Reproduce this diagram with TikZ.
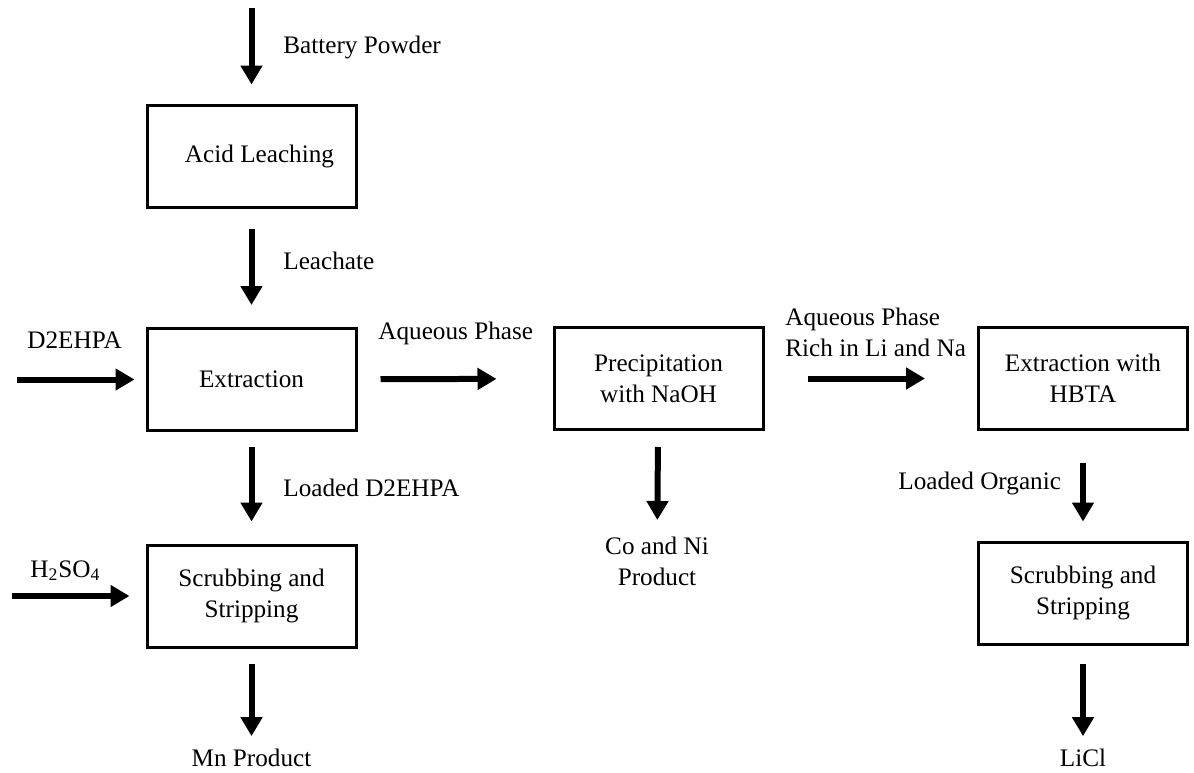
\documentclass[tikz,border=0pt]{standalone}
\usepackage{fontspec}
\setmainfont{Liberation Serif}
\usetikzlibrary{arrows.meta}

\begin{document}
\begin{tikzpicture}[x=0.5pt, y=-0.5pt,
        every node/.style = {font=\fontsize{12.6}{15.5}\selectfont},
        proc/.style = {draw, line width=1.5pt, minimum width=104.5pt, minimum height=51pt, align=center, inner sep=0pt},
        lbl/.style = {inner sep=0pt, align=left},
        flow/.style = {-{Triangle[length=9.5pt, width=10.5pt]}, line width=3pt}]
        \useasboundingbox (0,0) rectangle (1194,772);

        % process steps
        \node[proc] (leach) at (251.5,156) {\hspace*{8pt}Acid Leaching};
        \node[proc] (extr) at (251.5,379.5) {Extraction};
        \node[proc] (scrubL) at (251.5,596) {Scrubbing and\\Stripping};
        \node[proc] (precip) at (658.5,378.5) {Precipitation\\with NaOH};
        \node[proc] (hbta) at (1083,378.5) {Extraction with\\HBTA};
        \node[proc] (scrubR) at (1083,593) {Scrubbing and\\Stripping};

        % feeds and products
        \coordinate (feed) at (251.5,8);
        \coordinate (orgin) at (17,379.5);
        \coordinate (acidin) at (12,596);
        \node[lbl, anchor=north, align=center] (coni) at (657,537) {Co and Ni\\Product};
        \node[lbl, anchor=base] (mn) at (251.5,766) {Mn Product};
        \node[lbl, anchor=base] (licl) at (1083,766) {LiCl};

        % stream labels
        \node[lbl, anchor=base west] at (283,53) {Battery Powder};
        \node[lbl, anchor=base west] at (283,269) {Leachate};
        \node[lbl, anchor=base west] at (27,348) {D2EHPA};
        \node[lbl, anchor=base west] at (378,339) {Aqueous Phase};
        \node[lbl, anchor=north west] at (785,308) {Aqueous Phase\\Rich in Li and Na};
        \node[lbl, anchor=base west] at (283,496) {Loaded D2EHPA};
        \node[lbl, anchor=base west] at (898,489) {Loaded Organic};
        \node[lbl, anchor=base west] at (30,577) {H\textsubscript{2}SO\textsubscript{4}};

        \draw[flow, shorten >=9.5pt] (feed) -- (leach);
        \draw[flow, shorten <=10pt, shorten >=11pt] (leach) -- (extr);
        \draw[flow, shorten >=5.5pt] (orgin) -- (extr);
        \draw[flow, shorten <=7.5pt, shorten >=11pt] (extr) -- (scrubL);
        \draw[flow, shorten >=8pt] (acidin) -- (scrubL);
        \draw[flow, shorten <=7.5pt, shorten >=6pt] (scrubL) -- (mn);
        \draw[flow, shorten <=11.5pt, shorten >=28pt] (extr) -- (precip);
        \draw[flow, shorten <=8pt, shorten >=8.5pt] (precip) -- (coni);
        \draw[flow, shorten <=21.5pt, shorten >=26pt] (precip) -- (hbta);
        \draw[flow, shorten <=16pt, shorten >=9.5pt] (hbta) -- (scrubR);
        \draw[flow, shorten <=9pt, shorten >=6pt] (scrubR) -- (licl);
    \end{tikzpicture}
\end{document}
